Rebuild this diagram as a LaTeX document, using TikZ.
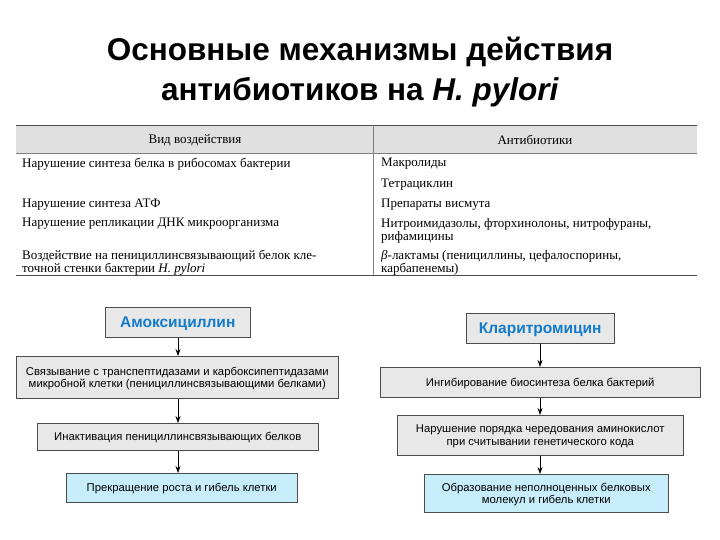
\documentclass[tikz,border=0pt]{standalone}
\usepackage{fontspec}
\usetikzlibrary{arrows.meta}
\setmainfont{Liberation Sans}
\newfontfamily\tabfont{Liberation Serif}
\begin{document}
\begin{tikzpicture}[x=1pt,y=-1pt,
  fbox/.style={draw=black!70,fill=black!9,line width=0.5pt,align=center,font=\fontsize{11.3}{12.5}\selectfont,inner sep=0pt,anchor=north west,text depth=0pt},
  hbox/.style={fbox,font=\bfseries\fontsize{15.5}{18}\selectfont,text=cyan!60!blue},
  ebox/.style={fbox,fill=cyan!22},
  arr/.style={-{Stealth[length=7pt,width=5pt]},line width=0.7pt},
  tc/.style={font=\tabfont\fontsize{13}{13}\selectfont,anchor=west,align=left,inner sep=0pt}]
\useasboundingbox (0,0) rectangle (720,540);
\node[font=\bfseries\fontsize{31.5}{40}\selectfont,align=center] (title) at (360,72) {Основные механизмы действия\\антибиотиков на \textit{H. pylori}};
% table
\fill[black!12] (16,125) rectangle (697,153);
\draw[line width=0.8pt,black!70] (16,125) -- (697,125) (16,275) -- (697,275);
\draw[black!50] (16,153) -- (697,153) (373,125) -- (373,275);
\node[tc,anchor=center] (h1) at (195,140) {Вид воздействия};
\node[tc,anchor=center] (h2) at (535,140) {Антибиотики};
\node[tc] (l1) at (22,164) {Нарушение синтеза белка в рибосомах бактерии};
\node[tc] (l2) at (22,205) {Нарушение синтеза АТФ};
\node[tc] (l3) at (22,224) {Нарушение репликации ДНК микроорганизма};
\node[tc] (l4) at (22,263) {Воздействие на пенициллинсвязывающий белок кле-\\точной стенки бактерии \textit{H. pylori}};
\node[tc] (r1) at (381,164) {Макролиды};
\node[tc] (r2) at (381,185) {Тетрациклин};
\node[tc] (r3) at (381,205) {Препараты висмута};
\node[tc] (r4) at (381,231) {Нитроимидазолы, фторхинолоны, нитрофураны,\\рифамицины};
\node[tc] (r5) at (381,263) {\textit{β}-лактамы (пенициллины, цефалоспорины,\\карбапенемы)};
% left chart
\node[hbox,minimum width=145,minimum height=30] (a1) at (105,307) {Амоксициллин};
\node[fbox,minimum width=322,minimum height=42] (a2) at (16,356) {Связывание с транспептидазами и карбоксипептидазами\\микробной клетки (пенициллинсвязывающими белками)};
\node[fbox,minimum width=281,minimum height=27] (a3) at (37,423) {Инактивация пенициллинсвязывающих белков};
\node[ebox,minimum width=231,minimum height=29] (a4) at (66,473) {Прекращение роста и гибель клетки};
\coordinate (ax) at (178,0);
\draw[arr] (a1.south -| ax) -- (a2.north -| ax);
\draw[arr] (a2.south -| ax) -- (a3.north -| ax);
\draw[arr] (a3.south -| ax) -- (a4.north -| ax);
% right chart
\node[hbox,minimum width=148,minimum height=30] (b1) at (466,313) {Кларитромицин};
\node[fbox,minimum width=320,minimum height=30] (b2) at (380,367) {Ингибирование биосинтеза белка бактерий};
\node[fbox,minimum width=286,minimum height=40] (b3) at (397,415) {Нарушение порядка чередования аминокислот\\при считывании генетического кода};
\node[ebox,minimum width=244,minimum height=38] (b4) at (424,474) {Образование неполноценных белковых\\молекул и гибель клетки};
\coordinate (bx) at (540,0);
\draw[arr] (b1.south -| bx) -- (b2.north -| bx);
\draw[arr] (b2.south -| bx) -- (b3.north -| bx);
\draw[arr] (b3.south -| bx) -- (b4.north -| bx);
\end{tikzpicture}
\end{document}
